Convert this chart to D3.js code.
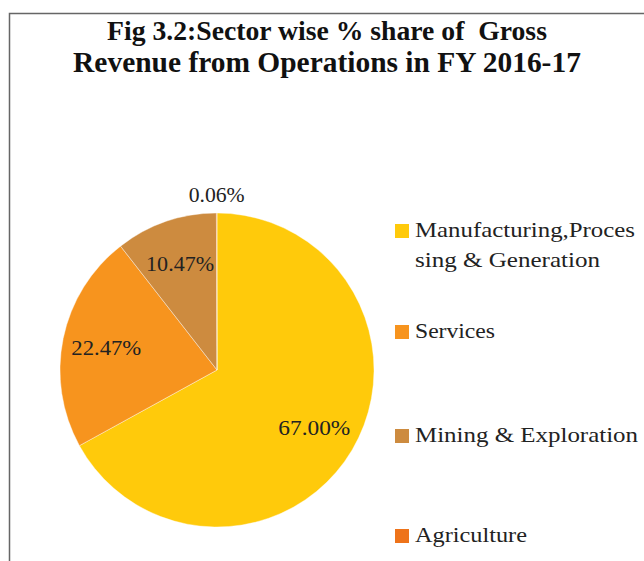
<!DOCTYPE html>
<html><head><meta charset="utf-8">
<script src="https://cdn.jsdelivr.net/npm/d3@7"></script>
<style>
html,body{margin:0;padding:0;background:#fff;}
svg{display:block;}
text{font-family:"Liberation Serif","DejaVu Serif",serif;white-space:pre;}
</style></head>
<body>
<svg id="c" width="644" height="561"></svg>
<script>
const titleLines = ["Fig 3.2:Sector wise % share of  Gross", "Revenue from Operations in FY 2016-17"];
const categories = ["Manufacturing,Processing & Generation", "Services", "Mining & Exploration", "Agriculture"];
const legendLines = [["Manufacturing,Proces", "sing & Generation"], ["Services"], ["Mining & Exploration"], ["Agriculture"]];
const values = [67.00, 22.47, 10.47, 0.06];
const valueLabels = ["67.00%", "22.47%", "10.47%", "0.06%"];
const colors = ["#FFCA0B", "#F7941E", "#CD8B3F", "#EE731A"];

const svg = d3.select("#c");
// frame
svg.append("path").attr("d", "M9.5,561 V13.5 H644").attr("fill", "none").attr("stroke", "#666").attr("stroke-width", 1.5);

// title
const titleY = [40, 72];
const titleW = [440, 508];
titleLines.forEach((t, i) => {
  const tx = svg.append("text").attr("x", 327).attr("y", titleY[i]).attr("text-anchor", "middle")
    .attr("font-weight", "bold").attr("font-size", 24).attr("fill", "#111").text(t);
  const w = tx.node().getComputedTextLength();
  tx.attr("font-size", 24 * titleW[i] / w);
});

// pie
const cx = 217, cy = 370, r = 157;
const pie = d3.pie().sort(null).value(d => d)(values);
const arc = d3.arc().innerRadius(0).outerRadius(r);
const g = svg.append("g").attr("transform", `translate(${cx},${cy})`);
g.selectAll("path").data(pie).join("path")
  .attr("d", arc).attr("fill", (d, i) => colors[i]).attr("stroke", "#fff").attr("stroke-width", 0.4);

// labels
const labelArc = d3.arc().innerRadius(r * 0.72).outerRadius(r * 0.72);
const outerArc = d3.arc().innerRadius(r * 1.12).outerRadius(r * 1.12);
const labelW = [72, 70, 68, 56];
g.selectAll("text.lbl").data(pie).join("text").attr("class", "lbl")
  .attr("transform", (d, i) => {
    const p = i === 3 ? outerArc.centroid(d) : labelArc.centroid(d);
    return `translate(${p[0]},${p[1]})`;
  })
  .attr("text-anchor", "middle").attr("dy", "0.35em").attr("font-size", 21).attr("fill", "#222")
  .attr("textLength", (d, i) => labelW[i]).attr("lengthAdjust", "spacingAndGlyphs")
  .text((d, i) => valueLabels[i]);

// legend
const legY = [237, 338, 442, 542];
const legW = [[220, 185], [80], [223], [112]];
const lg = svg.append("g");
legendLines.forEach((lines, i) => {
  lg.append("rect").attr("x", 395).attr("y", legY[i] - 13).attr("width", 14).attr("height", 14).attr("fill", colors[i]);
  lines.forEach((ln, j) => {
    lg.append("text").attr("x", 415).attr("y", legY[i] + j * 30).attr("font-size", 22).attr("fill", "#222")
      .attr("textLength", legW[i][j]).attr("lengthAdjust", "spacingAndGlyphs").text(ln);
  });
});
</script>
</body></html>
